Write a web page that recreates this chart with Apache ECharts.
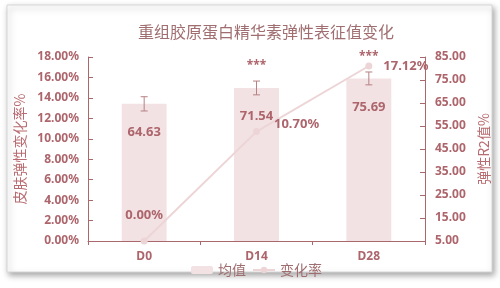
<!DOCTYPE html>
<html><head><meta charset="utf-8">
<script src="https://cdn.jsdelivr.net/npm/echarts@6/dist/echarts.min.js"></script>
<style>html,body{margin:0;padding:0;background:#fff}#c{width:500px;height:288px}</style>
</head><body><div id="c"></div>
<script>
var categories = ["D0", "D14", "D28"];
var meanValues = [64.63, 71.54, 75.69];
var errorValues = [3.1, 3.0, 2.8];
var changeRates = [0.00, 10.70, 17.12];
var sigMarks = ["", "***", "***"];
var leftTicks = {min: 0, max: 18, interval: 2};
var rightTicks = {min: 5, max: 85, interval: 10};

var labelColor = '#ad656c';
var axisColor = '#a8686c';
var cjk = '"Noto Sans CJK SC", "Noto Sans", sans-serif';
var num = '"Noto Sans", "Open Sans", sans-serif';

var errData = categories.map(function (c, i) {
  return [i, meanValues[i] + errorValues[i], meanValues[i] - errorValues[i]];
});

var lineLabelCfg = [
  {position: 'top', distance: 16},
  {position: 'right', distance: 14, offset: [0, -7]},
  {position: 'right', distance: 11}
];
var lineData = changeRates.map(function (v, i) {
  return {value: v, label: lineLabelCfg[i]};
});

var chart = echarts.init(document.getElementById('c'));
chart.setOption({
  animation: false,
  backgroundColor: '#ffffff',
  graphic: [{
    type: 'rect', z: -10, silent: true,
    shape: {x: 7, y: 5, width: 485, height: 267},
    style: {fill: '#ffffff', stroke: '#d6d6d6', lineWidth: 1,
      shadowBlur: 6, shadowColor: 'rgba(0,0,0,0.35)', shadowOffsetX: 2, shadowOffsetY: 3}
  }],
  title: {
    text: '重组胶原蛋白精华素弹性表征值变化',
    left: 133, top: 19,
    textStyle: {fontFamily: cjk, fontSize: 16, fontWeight: 'normal', color: '#a06e70'}
  },
  legend: {
    left: 186, top: 258,
    itemWidth: 22, itemHeight: 8, itemGap: 6,
    textStyle: {fontFamily: cjk, fontSize: 14, color: '#a06e70'},
    data: ['均值', '变化率']
  },
  grid: {left: 88, right: 75, top: 57, bottom: 47},
  xAxis: {
    type: 'category', data: categories,
    axisLine: {lineStyle: {color: axisColor, width: 1}},
    axisTick: {show: true, length: 4, lineStyle: {color: axisColor}},
    axisLabel: {margin: 10, fontFamily: num, fontWeight: 'bold', fontSize: 12, color: labelColor}
  },
  yAxis: [{
    type: 'value', min: leftTicks.min, max: leftTicks.max, interval: leftTicks.interval,
    name: '皮肤弹性变化率%', nameLocation: 'middle', nameGap: 60, nameRotate: 90,
    nameTextStyle: {fontFamily: cjk, fontSize: 14, color: '#b86b70'},
    axisLine: {show: true, lineStyle: {color: axisColor}},
    axisTick: {show: true, inside: true, length: 5, lineStyle: {color: axisColor}},
    splitLine: {show: false},
    axisLabel: {margin: 9, fontFamily: num, fontWeight: 'bold', fontSize: 12, color: labelColor,
      formatter: function (v) { return v.toFixed(2) + '%'; }}
  }, {
    type: 'value', min: rightTicks.min, max: rightTicks.max, interval: rightTicks.interval,
    position: 'right',
    name: '弹性R2值%', nameLocation: 'middle', nameGap: 49, nameRotate: 90,
    nameTextStyle: {fontFamily: cjk, fontSize: 14, color: '#b86b70'},
    axisLine: {show: true, lineStyle: {color: axisColor}},
    axisTick: {show: true, inside: true, length: 5, lineStyle: {color: axisColor}},
    splitLine: {show: false},
    axisLabel: {margin: 10, fontFamily: num, fontWeight: 'bold', fontSize: 12, color: labelColor,
      formatter: function (v) { return v.toFixed(2); }}
  }],
  series: [{
    name: '均值', type: 'bar', yAxisIndex: 1, data: meanValues,
    barWidth: '40%',
    itemStyle: {color: '#f2e2e3'},
    label: {show: true, position: 'insideTop', distance: 22,
      fontFamily: num, fontWeight: 'bold', fontSize: 13, color: labelColor,
      formatter: function (p) { return p.value.toFixed(2); }}
  }, {
    name: 'err', type: 'custom', yAxisIndex: 1, data: errData, z: 5,
    encode: {x: 0, y: [1, 2]},
    renderItem: function (params, api) {
      var i = api.value(0);
      var hi = api.coord([i, api.value(1)]);
      var lo = api.coord([i, api.value(2)]);
      var cw = 3.5;
      var st = {stroke: '#b88084', lineWidth: 1};
      var children = [
        {type: 'line', shape: {x1: hi[0], y1: hi[1], x2: lo[0], y2: lo[1]}, style: st},
        {type: 'line', shape: {x1: hi[0] - cw, y1: hi[1], x2: hi[0] + cw, y2: hi[1]}, style: st},
        {type: 'line', shape: {x1: lo[0] - cw, y1: lo[1], x2: lo[0] + cw, y2: lo[1]}, style: st}
      ];
      var s = sigMarks[params.dataIndex];
      if (s) {
        children.push({type: 'text', style: {text: s, x: hi[0], y: hi[1] - 15,
          align: 'center', verticalAlign: 'middle',
          font: 'bold 12px "Noto Sans", sans-serif', fill: labelColor}});
      }
      return {type: 'group', children: children};
    }
  }, {
    name: '变化率', type: 'line', yAxisIndex: 0, data: lineData, z: 6,
    symbol: 'circle', symbolSize: 7,
    lineStyle: {color: '#edd5d7', width: 2},
    itemStyle: {color: '#edd5d7'},
    label: {show: true, fontFamily: num, fontWeight: 'bold', fontSize: 13, color: labelColor,
      formatter: function (p) { return p.value.toFixed(2) + '%'; }}
  }]
});
</script></body></html>
